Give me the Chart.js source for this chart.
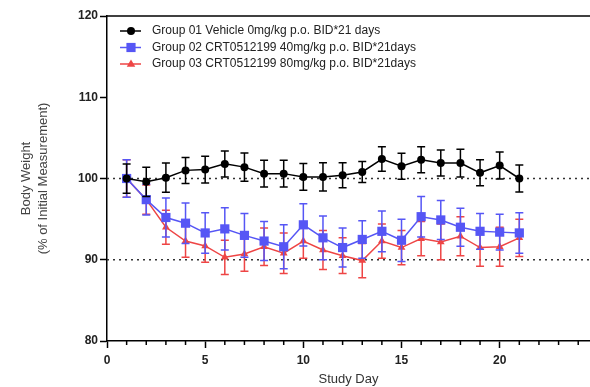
<!DOCTYPE html>
<html>
<head>
<meta charset="utf-8">
<script src="https://cdn.jsdelivr.net/npm/chart.js@4.4.1/dist/chart.umd.min.js"></script>
<style>
  html, body { margin: 0; padding: 0; background: #fff; }
  #wrap { width: 590px; height: 387px; }
</style>
</head>
<body>
<div id="wrap"><canvas id="bwChart" width="590" height="387"></canvas></div>
<script>
// Study days
const days = [1, 2, 3, 4, 5, 6, 7, 8, 9, 10, 11, 12, 13, 14, 15, 16, 17, 18, 19, 20, 21];

// Group 01 Vehicle
const g1Mean = [100, 99.6, 100.1, 101.0, 101.1, 101.8, 101.4, 100.6, 100.6, 100.2, 100.2, 100.4, 100.8, 102.4, 101.5, 102.3, 101.9, 101.9, 100.7, 101.6, 100.0];
const g1Err  = [1.8, 1.8, 1.8, 1.6, 1.65, 1.6, 1.75, 1.65, 1.65, 1.65, 1.75, 1.55, 1.3, 1.5, 1.6, 1.6, 1.6, 1.7, 1.6, 1.65, 1.65];

// Group 02 CRT0512199 40mg/kg
const g2Mean = [100, 97.4, 95.2, 94.5, 93.3, 93.8, 93.0, 92.3, 91.6, 94.3, 92.7, 91.5, 92.5, 93.5, 92.4, 95.3, 94.9, 94.0, 93.5, 93.4, 93.3];
const g2Err  = [2.3, 1.9, 2.4, 2.5, 2.5, 2.6, 2.7, 2.4, 2.7, 2.6, 2.7, 2.4, 2.3, 2.5, 2.6, 2.5, 2.4, 2.35, 2.2, 2.2, 2.5];

// Group 03 CRT0512199 80mg/kg
const g3Mean = [100, 97.4, 94.0, 92.3, 91.7, 90.3, 90.7, 91.6, 90.8, 92.3, 91.2, 90.5, 89.9, 92.3, 91.5, 92.6, 92.2, 92.9, 91.5, 91.6, 92.7];
const g3Err  = [2.3, 1.8, 2.1, 2.0, 2.0, 2.1, 2.1, 2.3, 2.5, 2.1, 2.4, 2.2, 2.1, 2.1, 2.1, 2.1, 2.2, 2.4, 2.3, 2.4, 2.3];

const groupLabels = [
    'Group 01 Vehicle 0mg/kg p.o. BID*21 days',
    'Group 02 CRT0512199 40mg/kg p.o. BID*21days',
    'Group 03 CRT0512199 80mg/kg p.o. BID*21days'
];

// y axis ticks and dotted reference lines
const yTicks = [80, 90, 100, 110, 120];
const refLines = [90, 100];

const FONT = "'Liberation Sans', Arial, sans-serif";

function toPoints(means) {
    return days.map((d, i) => ({ x: d, y: means[i] }));
}

// draw one marker (circle / rect / triangle)
function drawMarker(ctx, style, x, y, r, color) {
    ctx.save();
    ctx.fillStyle = color;
    ctx.beginPath();
    if (style === 'circle') {
        ctx.arc(x, y, r, 0, Math.PI * 2);
    } else if (style === 'rect') {
        const s = r * Math.SQRT1_2;
        ctx.rect(x - s, y - s, s * 2, s * 2);
    } else {
        ctx.moveTo(x, y - r);
        ctx.lineTo(x + r * 0.95, y + r * 0.6);
        ctx.lineTo(x - r * 0.95, y + r * 0.6);
        ctx.closePath();
    }
    ctx.fill();
    ctx.restore();
}

// error bars, dotted lines, minor ticks, top frame and legend
const extras = {
    id: 'extras',
    beforeDatasetsDraw(chart) {
        const { ctx, chartArea, scales } = chart;
        ctx.save();
        ctx.strokeStyle = '#333';
        ctx.lineWidth = 1.5;
        ctx.setLineDash([2, 4]);
        refLines.forEach(v => {
            const y = scales.y.getPixelForValue(v);
            ctx.beginPath();
            ctx.moveTo(chartArea.left, y);
            ctx.lineTo(chartArea.right, y);
            ctx.stroke();
        });
        ctx.restore();
    },
    beforeDatasetDraw(chart, args) {
        const ds = chart.data.datasets[args.index];
        const { ctx, scales } = chart;
        ctx.save();
        ctx.strokeStyle = ds.borderColor;
        ctx.lineWidth = 1.5;
        ds.errors.forEach((e, i) => {
            const x = scales.x.getPixelForValue(days[i]);
            const yTop = scales.y.getPixelForValue(ds.means[i] + e);
            const yBot = scales.y.getPixelForValue(ds.means[i] - e);
            ctx.beginPath();
            ctx.moveTo(x, yTop);
            ctx.lineTo(x, yBot);
            ctx.moveTo(x - 4, yTop);
            ctx.lineTo(x + 4, yTop);
            ctx.moveTo(x - 4, yBot);
            ctx.lineTo(x + 4, yBot);
            ctx.stroke();
        });
        ctx.restore();
    },
    afterDraw(chart) {
        const { ctx, chartArea, scales } = chart;
        ctx.save();
        // top frame line
        ctx.strokeStyle = '#000';
        ctx.lineWidth = 1.5;
        ctx.beginPath();
        ctx.moveTo(chartArea.left, chartArea.top);
        ctx.lineTo(chartArea.right, chartArea.top);
        ctx.stroke();
        // minor x ticks every day
        for (let d = 1; d <= 24; d++) {
            if (d % 5 === 0) continue;
            const x = scales.x.getPixelForValue(d);
            ctx.beginPath();
            ctx.moveTo(x, chartArea.bottom);
            ctx.lineTo(x, chartArea.bottom + 4);
            ctx.stroke();
        }
        // legend
        ctx.font = '12px ' + FONT;
        ctx.textBaseline = 'middle';
        chart.data.datasets.forEach((ds, i) => {
            const y = chartArea.top + 15 + i * 16.5;
            ctx.strokeStyle = ds.borderColor;
            ctx.lineWidth = 1.5;
            ctx.beginPath();
            ctx.moveTo(chartArea.left + 13, y);
            ctx.lineTo(chartArea.left + 34, y);
            ctx.stroke();
            drawMarker(ctx, ds.pointStyle, chartArea.left + 24, y, ds.pointRadius, ds.borderColor);
            ctx.fillStyle = '#222';
            ctx.fillText(ds.label, chartArea.left + 45, y);
        });
        ctx.restore();
    }
};

document.addEventListener('DOMContentLoaded', () => {
    const ctx = document.getElementById('bwChart').getContext('2d');

    const mkSet = (label, means, errors, color, style, radius) => ({
        label,
        data: toPoints(means),
        means,
        errors,
        borderColor: color,
        backgroundColor: color,
        borderWidth: 1.5,
        pointStyle: style,
        pointRadius: radius,
        pointHoverRadius: radius,
        pointBorderWidth: 0,
        tension: 0
    });

    new Chart(ctx, {
        type: 'line',
        data: {
            datasets: [
                mkSet(groupLabels[0], g1Mean, g1Err, '#000000', 'circle', 4),
                mkSet(groupLabels[1], g2Mean, g2Err, '#5656f5', 'rect', 6.5),
                mkSet(groupLabels[2], g3Mean, g3Err, '#ee4545', 'triangle', 4.5)
            ]
        },
        options: {
            responsive: false,
            animation: false,
            layout: { autoPadding: false, padding: { top: 16, right: 0, left: 0, bottom: 0 } },
            plugins: {
                legend: { display: false },
                tooltip: { enabled: false }
            },
            scales: {
                x: {
                    type: 'linear',
                    min: 0,
                    max: 24.6,
                    afterFit: s => { s.height = 46; s.paddingLeft = 0; s.paddingRight = 0; },
                    ticks: {
                        stepSize: 5,
                        includeBounds: false,
                        color: '#222',
                        padding: 5,
                        font: { family: FONT, size: 12, weight: 'bold' }
                    },
                    grid: { drawOnChartArea: false, tickLength: 7, tickColor: '#000', tickWidth: 1.5 },
                    border: { color: '#000', width: 1.5 },
                    title: {
                        display: true,
                        text: 'Study Day',
                        color: '#333',
                        padding: { top: 0, bottom: 0 },
                        font: { family: FONT, size: 13 }
                    }
                },
                y: {
                    min: 80,
                    max: 120,
                    afterFit: s => { s.width = 107; },
                    afterBuildTicks: s => { s.ticks = yTicks.map(v => ({ value: v })); },
                    ticks: {
                        color: '#222',
                        padding: 2,
                        font: { family: FONT, size: 12, weight: 'bold' }
                    },
                    grid: { drawOnChartArea: false, tickLength: 7, tickColor: '#000', tickWidth: 1.5 },
                    border: { color: '#000', width: 1.5 },
                    title: {
                        display: true,
                        text: ['Body Weight', '(% of Initial Measurement)'],
                        color: '#444',
                        padding: { top: 18, bottom: 0 },
                        font: { family: FONT, size: 13, lineHeight: 1.28 }
                    }
                }
            }
        },
        plugins: [extras]
    });
});
</script>
</body>
</html>
